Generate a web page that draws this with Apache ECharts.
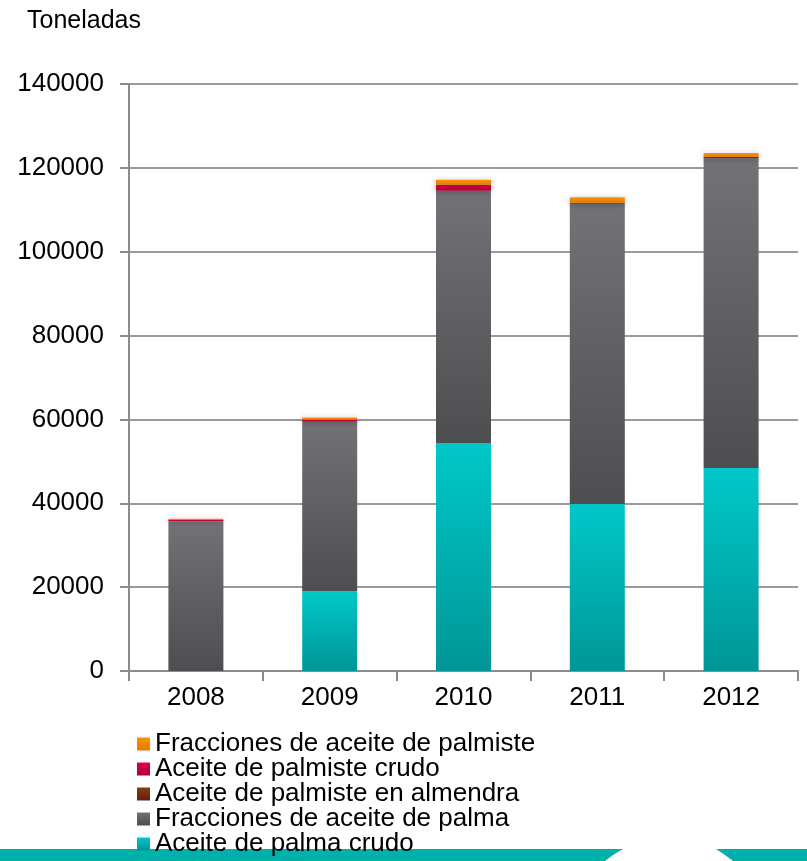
<!DOCTYPE html>
<html>
<head>
<meta charset="utf-8">
<script src="https://cdn.jsdelivr.net/npm/echarts@6/dist/echarts.min.js"></script>
<style>
  html, body { margin: 0; padding: 0; background: #fff; }
  #chart { width: 807px; height: 861px; }
</style>
</head>
<body>
<div id="chart"></div>
<script>
var years = ["2008", "2009", "2010", "2011", "2012"];
var crudoPalma = [0, 19000, 54400, 39800, 48400];
var fraccPalma = [35700, 40400, 60100, 71600, 73900];
var almendra = [50, 50, 50, 50, 50];
var crudoPalmiste = [250, 500, 1400, 250, 300];
var fraccPalmiste = [300, 500, 1200, 1300, 900];

var font = "Liberation Sans, Arial, sans-serif";

function grad(top, bottom) {
  return new echarts.graphic.LinearGradient(0, 0, 0, 1, [
    { offset: 0, color: top },
    { offset: 1, color: bottom }
  ]);
}

function barSeries(name, data, top, bottom) {
  return {
    name: name,
    type: "bar",
    stack: "total",
    barWidth: 55,
    data: data,
    itemStyle: {
      color: grad(top, bottom),
      shadowBlur: 6,
      shadowColor: "rgba(0,0,0,0.25)",
      shadowOffsetY: 1
    }
  };
}

let option = {
  backgroundColor: "#fff",
  textStyle: { fontFamily: font },
  title: {
    text: "Toneladas",
    left: 22,
    top: 4,
    textStyle: { fontSize: 25, fontWeight: "normal", color: "#000", fontFamily: font }
  },
  grid: { left: 129, right: 9, top: 84, bottom: 190 },
  legend: {
    orient: "vertical",
    left: 132,
    top: 726,
    height: 200,
    itemWidth: 13,
    itemHeight: 13,
    itemGap: -1,
    icon: "rect",
    data: [
      "Fracciones de aceite de palmiste",
      "Aceite de palmiste crudo",
      "Aceite de palmiste en almendra",
      "Fracciones de aceite de palma",
      "Aceite de palma crudo"
    ],
    textStyle: { fontSize: 26, color: "#000", fontFamily: font, lineHeight: 24, padding: [0, 0, 0, 0] }
  },
  xAxis: {
    type: "category",
    data: years,
    axisLine: { lineStyle: { color: "#8c8c8c", width: 2 } },
    axisTick: { show: true, length: 10, lineStyle: { color: "#8c8c8c", width: 2 } },
    axisLabel: { fontSize: 26, color: "#000", margin: 14, fontFamily: font }
  },
  yAxis: {
    type: "value",
    min: 0,
    max: 140000,
    interval: 20000,
    axisLine: { show: true, lineStyle: { color: "#8c8c8c", width: 2 } },
    axisTick: { show: true, length: 9, lineStyle: { color: "#8c8c8c", width: 2 } },
    axisLabel: { fontSize: 26, color: "#000", margin: 25, fontFamily: font, formatter: function (v) { return String(v); } },
    splitLine: { lineStyle: { color: "#9a9a9a", width: 2 } }
  },
  graphic: [
    {
      type: "rect",
      shape: { x: 0, y: 849, width: 807, height: 12 },
      style: { fill: "#00b0aa" },
      z: 0
    },
    {
      type: "polygon",
      shape: { points: [[623, 849], [716, 849], [725, 855], [733, 861], [605, 861], [613, 855]] },
      style: { fill: "#fff" },
      z: 1
    }
  ],
  series: [
    barSeries("Aceite de palma crudo", crudoPalma, "#00c8c8", "#009696"),
    barSeries("Fracciones de aceite de palma", fraccPalma, "#727277", "#4e4e50"),
    barSeries("Aceite de palmiste en almendra", almendra, "#8a3a12", "#5e2208"),
    barSeries("Aceite de palmiste crudo", crudoPalmiste, "#e0004e", "#b0003c"),
    barSeries("Fracciones de aceite de palmiste", fraccPalmiste, "#ff9400", "#e07800")
  ]
};

let myChart = echarts.init(document.getElementById("chart"));
myChart.setOption(option);
</script>
</body>
</html>
